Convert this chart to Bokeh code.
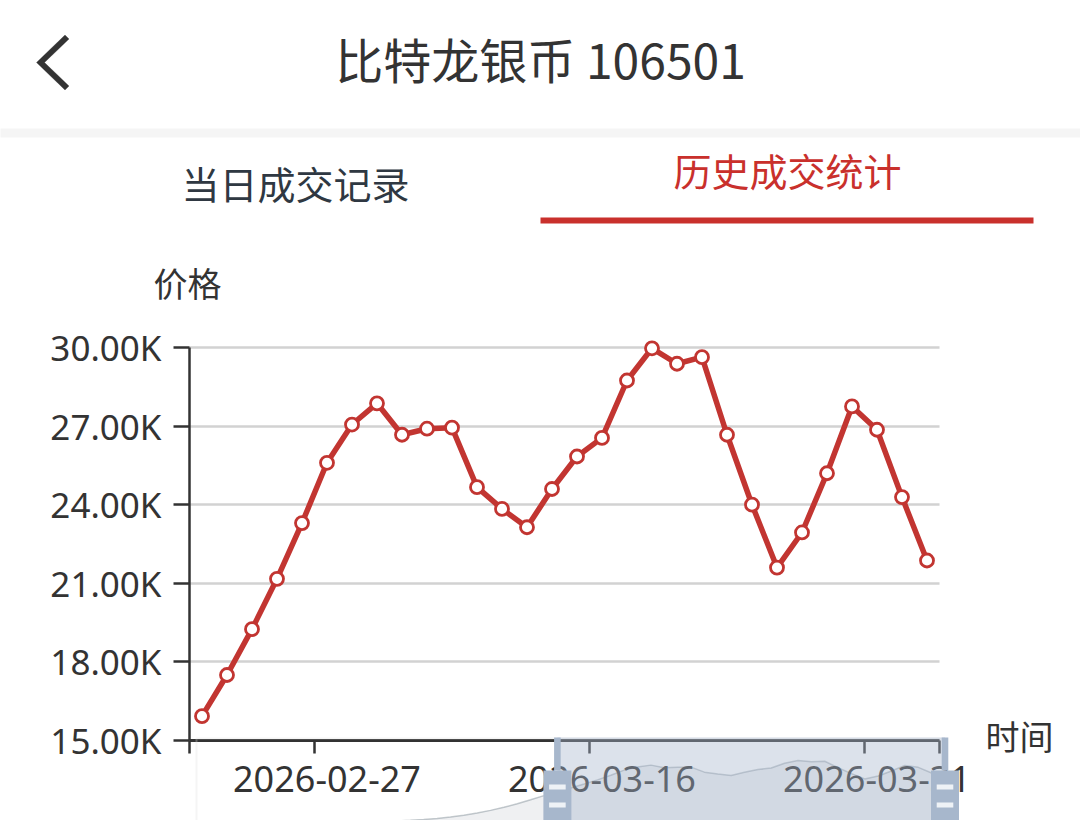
from bokeh.plotting import figure
from bokeh.models import (Range1d, FixedTicker, BoxAnnotation, PolyAnnotation, Label)
from bokeh.embed import file_html
from bokeh.resources import INLINE

# ---------------- data ----------------
dates = ["2026-02-20", "2026-02-23", "2026-02-24", "2026-02-25", "2026-02-26",
         "2026-02-27", "2026-03-02", "2026-03-03", "2026-03-04", "2026-03-05",
         "2026-03-06", "2026-03-09", "2026-03-10", "2026-03-11", "2026-03-12",
         "2026-03-13", "2026-03-16", "2026-03-17", "2026-03-18", "2026-03-19",
         "2026-03-20", "2026-03-23", "2026-03-24", "2026-03-25", "2026-03-26",
         "2026-03-27", "2026-03-30", "2026-03-31", "2026-04-01", "2026-04-02"]
prices = [15930, 17500, 19250, 21170, 23300, 25600, 27060, 27870, 26670, 26900,
          26940, 24670, 23840, 23140, 24600, 25840, 26550, 28740, 29970, 29380,
          29630, 26670, 24000, 21600, 22940, 25200, 27750, 26860, 24290, 21870]
# earlier history, only visible as the data shadow of the zoom slider
earlier_prices = [820, 860, 900, 950, 1010, 1080, 1150, 1230, 1320, 1420,
                  1540, 1680, 1840, 2020, 2230, 2480, 2780, 3150, 3650, 4300,
                  5100, 6100, 7300, 8700, 10300, 12100, 14000]
y_ticks = [15000, 18000, 21000, 24000, 27000, 30000]
y_tick_labels = ["15.00K", "18.00K", "21.00K", "24.00K", "27.00K", "30.00K"]
label_idx = [5, 16, 27]

title_text = "比特龙银币 106501"
tab_left = "当日成交记录"
tab_right = "历史成交统计"
y_name = "价格"
x_name = "时间"

# ---------------- layout constants (page pixel coords) ----------------
W, H = 1080, 820
X_LEFT_PX, CAT_PX = 189, 25                 # left edge of category axis, px per category
Y_MIN_PX, Y_MAX_PX = 740, 347               # pixel rows of 15000 and 30000
RED = "#c23531"
DARK = "#333333"
CJK = "Noto Sans CJK SC"
NUM = "Noto Sans"

n = len(dates)
ymin, ymax = y_ticks[0], y_ticks[-1]
upp = (ymax - ymin) / (Y_MIN_PX - Y_MAX_PX)
y_range = Range1d(ymin - (H - Y_MIN_PX) * upp, ymax + Y_MAX_PX * upp)
x_range = Range1d(-0.5 - X_LEFT_PX / CAT_PX, -0.5 + (W - X_LEFT_PX) / CAT_PX)

p = figure(width=W, height=H, output_backend="svg", toolbar_location=None,
           x_range=x_range, y_range=y_range,
           min_border_left=0, min_border_right=0,
           min_border_top=0, min_border_bottom=0)
p.outline_line_color = None
p.background_fill_color = "white"
p.border_fill_color = "white"

# y axis
p.yaxis.fixed_location = -0.5
p.yaxis.ticker = FixedTicker(ticks=y_ticks)
p.yaxis.bounds = (ymin, ymax)
p.yaxis.major_label_overrides = {t: l for t, l in zip(y_ticks, y_tick_labels)}
p.yaxis.axis_line_color = DARK
p.yaxis.axis_line_width = 2.5
p.yaxis.major_tick_line_color = DARK
p.yaxis.major_tick_line_width = 2.5
p.yaxis.major_tick_out = 16
p.yaxis.major_tick_in = 0
p.yaxis.minor_tick_line_color = None
p.yaxis.major_label_standoff = 12
p.yaxis.major_label_text_font = NUM
p.yaxis.major_label_text_font_size = "35px"
p.yaxis.major_label_text_color = DARK

# x axis (category boundaries as ticks, labels on category centres)
boundaries = [-0.5] + [i - 0.5 for i in label_idx] + [n - 0.5]
p.xaxis.fixed_location = ymin
p.xaxis.bounds = (-0.5, n - 0.5)
p.xaxis.ticker = FixedTicker(ticks=label_idx, minor_ticks=boundaries)
p.xaxis.major_label_overrides = {i: dates[i] for i in label_idx}
p.xaxis.axis_line_color = DARK
p.xaxis.axis_line_width = 3
p.xaxis.major_tick_out = 0
p.xaxis.major_tick_in = 0
p.xaxis.minor_tick_line_color = DARK
p.xaxis.minor_tick_line_width = 2.5
p.xaxis.minor_tick_out = 13
p.xaxis.minor_tick_in = 0
p.xaxis.major_label_standoff = 12
p.xaxis.major_label_text_font = NUM
p.xaxis.major_label_text_font_size = "36px"
p.xaxis.major_label_text_color = DARK

p.xgrid.visible = False
p.ygrid.ticker = FixedTicker(ticks=y_ticks)
p.ygrid.grid_line_color = "#d2d2d2"
p.ygrid.grid_line_width = 2.5
p.ygrid.cross_bounds = (-0.5, n - 0.5)

# ---------------- data zoom slider (shadow of the full history) ----------------
full = earlier_prices + prices
SL_L, SL_R, SL_T = 196, 944.5, 737
ppi = (SL_R - SL_L) / (len(full) - 1)
sh_top_px, sh_k = 760, 0.0022          # pixel row of series max, px per unit
vmax = max(full)
p.extra_x_ranges["sl"] = Range1d(-SL_L / ppi, (W - SL_L) / ppi)
p.extra_y_ranges["sl"] = Range1d(vmax - (H - sh_top_px) / sh_k, vmax + sh_top_px / sh_k)
idx_full = list(range(len(full)))
p.varea(x=idx_full, y1=[0] * len(full), y2=full, fill_color="#2f4554",
        fill_alpha=0.08, x_range_name="sl", y_range_name="sl")
p.line(x=idx_full, y=full, line_color="#2f4554", line_alpha=0.28, line_width=1.5,
       x_range_name="sl", y_range_name="sl")

# ---------------- main series ----------------
xs = list(range(n))
p.line(x=xs, y=prices, line_color=RED, line_width=5.5)
p.scatter(x=xs, y=prices, size=13, marker="circle", fill_color="white",
          line_color=RED, line_width=2.8)


# ---------------- chrome (screen units, frame == whole canvas) ----------------
def sx(X):
    return X


def sy(Y):
    return H - Y


def box(l, r, t, b, **kw):
    p.add_layout(BoxAnnotation(left=sx(l), right=sx(r), top=sy(t), bottom=sy(b),
                               left_units="screen", right_units="screen",
                               top_units="screen", bottom_units="screen", **kw))


def text(t, X, Y, size, color=DARK, align="center", font=CJK):
    p.add_layout(Label(x=sx(X), y=sy(Y), x_units="screen", y_units="screen",
                       text=t, text_font=font, text_font_size=size,
                       text_color=color, text_align=align,
                       text_baseline="middle"))


# slider frame, filler and handles
filler_l = SL_L + len(earlier_prices) * ppi
box(SL_L, SL_R, SL_T + 1, 900, fill_alpha=0, line_color="#dddddd", line_width=2)
box(filler_l, SL_R, SL_T, 900, fill_color="#a7b7cc", fill_alpha=0.4,
    line_color=None)
for cx in (filler_l, SL_R):
    box(cx - 3.3, cx + 3.3, SL_T, 770, fill_color="#a7b7cc", fill_alpha=1,
        line_color=None)
    box(cx - 14, cx + 14, 770, 830, fill_color="#a7b7cc", fill_alpha=1,
        line_color=None)
    for dy in (784, 802):
        box(cx - 8.3, cx + 8.3, dy, dy + 5, fill_color="#eef2f6", fill_alpha=1,
            line_color=None)

# header
box(-20, 1100, 128, 137, fill_color="#f5f5f5", fill_alpha=1, line_color=None)
box(540, 1033, 217, 223, fill_color="#c9302c", fill_alpha=1, line_color=None)
chev = [(36, 62), (64.5, 34.5), (68.5, 38.5), (44, 62), (68.5, 85.5), (64.5, 89.5)]
p.add_layout(PolyAnnotation(xs=[sx(a) for a, b in chev], ys=[sy(b) for a, b in chev],
                            xs_units="screen", ys_units="screen",
                            fill_color=DARK, fill_alpha=1, line_color=DARK,
                            line_width=1))

text(title_text, 540, 57, "48px")
text(tab_left, 295, 182, "38px", color="#2f3842")
text(tab_right, 787, 169, "38px", color="#c9302c")
text(y_name, 187, 282, "34px")
text(x_name, 985, 735, "34px", align="left")

open("out.html", "w").write(file_html(p, INLINE))
